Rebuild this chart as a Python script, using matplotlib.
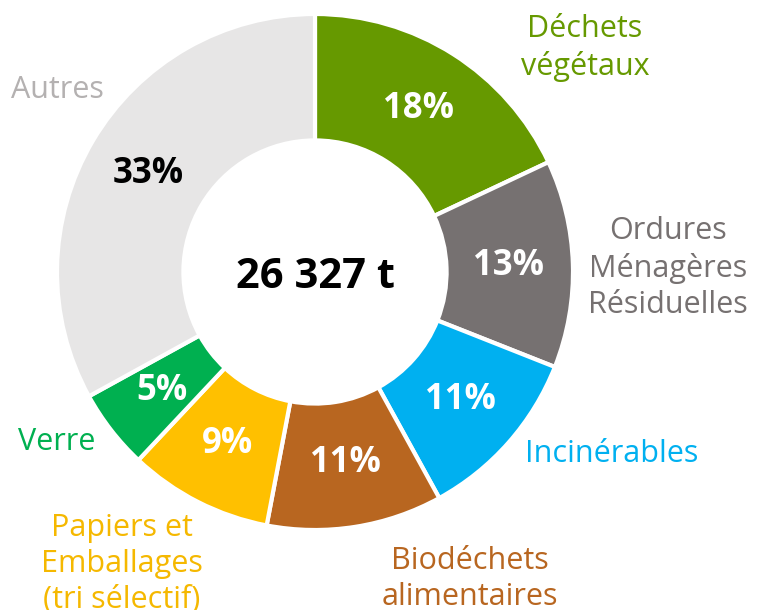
import numpy as np
import matplotlib.pyplot as plt

categories = ['Déchets\nvégétaux', 'Ordures\nMénagères\nRésiduelles', 'Incinérables',
              'Biodéchets\nalimentaires', 'Papiers et\nEmballages\n(tri sélectif)', 'Verre', 'Autres']
shares = [18, 13, 11, 11, 9, 5, 33]
total_label = '26 327 t'

colors = ['#669900', '#767171', '#00B0F0', '#B86620', '#FFC000', '#00B050', '#E7E6E6']
label_colors = ['#669900', '#767171', '#00B0F0', '#B86620', '#F5B800', '#00B050', '#B4B1B1']
pct_colors = ['white', 'white', 'white', 'white', 'white', 'white', 'black']

# label positions in pixel coords (x, y from top)
label_pos = [(585, 48), (668, 268), (612, 454), (470, 579), (122, 564), (57, 442), (57, 90)]

W, H = 757, 610
plt.rcParams['font.family'] = ['Open Sans', 'DejaVu Sans']

fig = plt.figure(figsize=(W / 100, H / 100), dpi=100)
ax = fig.add_axes([0, 0, 1, 1])

cx, cy, r = 315, H - 272, 258
wedges, texts = ax.pie(shares, colors=colors, startangle=90, counterclock=False,
                       center=(cx, cy), radius=r,
                       wedgeprops=dict(width=r * 0.49, edgecolor='white', linewidth=3),
                       frame=True)
ax.set_xlim(0, W)
ax.set_ylim(0, H)
ax.set_aspect('equal')
ax.axis('off')

for w, s, c in zip(wedges, shares, pct_colors):
    ang = np.deg2rad((w.theta1 + w.theta2) / 2)
    x = cx + r * 0.75 * np.cos(ang)
    y = cy + r * 0.75 * np.sin(ang)
    ax.text(x, y, f'{s}%', ha='center', va='center', fontsize=25,
            fontweight='bold', color=c)

for lab, (x, y), c in zip(categories, label_pos, label_colors):
    ax.text(x, H - y, lab, ha='center', va='center', fontsize=22, color=c,
            linespacing=1.28)

ax.text(cx, cy - 5, total_label, ha='center', va='center', fontsize=30,
        fontweight='bold', color='black')

fig.savefig('out.png', dpi=100)
